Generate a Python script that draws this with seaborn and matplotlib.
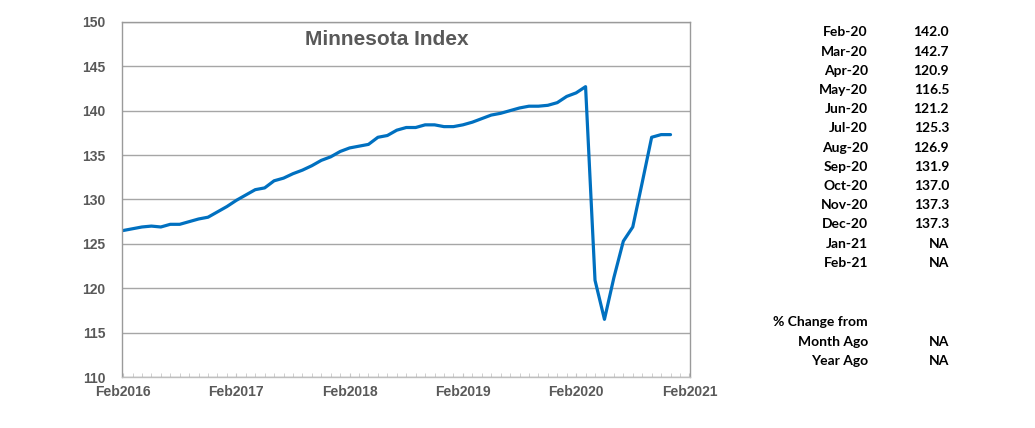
import numpy as np
import pandas as pd
import matplotlib
matplotlib.use("Agg")
import matplotlib.pyplot as plt
import seaborn as sns
from matplotlib.ticker import MultipleLocator

# Monthly index, Feb 2016 .. Dec 2020
index_values = [
    126.5, 126.7, 126.9, 127.0, 126.9, 127.2, 127.2, 127.5, 127.8, 128.0, 128.6, 129.2,
    129.9, 130.5, 131.1, 131.3, 132.1, 132.4, 132.9, 133.3, 133.8, 134.4, 134.8, 135.4,
    135.8, 136.0, 136.2, 137.0, 137.2, 137.8, 138.1, 138.1, 138.4, 138.4, 138.2, 138.2,
    138.4, 138.7, 139.1, 139.5, 139.7, 140.0, 140.3, 140.5, 140.5, 140.6, 140.9, 141.6,
    142.0, 142.7, 120.9, 116.5, 121.2, 125.3, 126.9, 131.9, 137.0, 137.3, 137.3,
]
year_labels = ["Feb2016", "Feb2017", "Feb2018", "Feb2019", "Feb2020", "Feb2021"]

table_months = ["Feb-20", "Mar-20", "Apr-20", "May-20", "Jun-20", "Jul-20", "Aug-20",
                "Sep-20", "Oct-20", "Nov-20", "Dec-20", "Jan-21", "Feb-21"]
table_values = ["142.0", "142.7", "120.9", "116.5", "121.2", "125.3", "126.9",
                "131.9", "137.0", "137.3", "137.3", "NA", "NA"]
change_labels = ["Month Ago", "Year Ago"]
change_values = ["NA", "NA"]

df = pd.DataFrame({"month": np.arange(len(index_values)), "value": index_values})

sns.set_style("white")
plt.rcParams["font.family"] = ["Liberation Sans", "DejaVu Sans"]

fig = plt.figure(figsize=(10.35, 4.28), dpi=100)
ax = fig.add_axes([0.118, 0.119, 0.549, 0.830])

sns.lineplot(data=df, x="month", y="value", ax=ax, color="#0070C0", linewidth=2.3)

ax.set_xlim(-0.1, 60.1)
ax.set_ylim(110, 150)
ax.yaxis.set_major_locator(MultipleLocator(5))
ax.set_xticks(np.arange(0, 61, 12))
ax.set_xticklabels(year_labels)
ax.xaxis.set_minor_locator(MultipleLocator(1))
ax.grid(axis="y", color="#a6a6a6", linewidth=1)
ax.set_xlabel("")
ax.set_ylabel("")

for side in ["left", "right", "top", "bottom"]:
    ax.spines[side].set_visible(True)
    ax.spines[side].set_color("#9a9a9a")
    ax.spines[side].set_linewidth(1)
ax.spines["bottom"].set_color("#bfbfbf")

ax.tick_params(axis="x", which="both", direction="in", bottom=True, length=3,
               color="#c8c8c8", pad=6)
ax.tick_params(axis="y", length=0, pad=12)
for lab in ax.get_xticklabels() + ax.get_yticklabels():
    lab.set_fontweight("bold")
    lab.set_fontsize(10)
    lab.set_color("#595959")

ax.text(0.465, 0.95, "Minnesota Index", transform=ax.transAxes, ha="center", va="center",
        fontsize=15, fontweight="bold", color="#595959")

# side table
tfont = dict(fontsize=10, fontweight="bold", color="black", family=["Lato", "DejaVu Sans"])
lab_x, val_x = 868 / 1035, 949 / 1035
for i, (m, v) in enumerate(zip(table_months, table_values)):
    y = 1 - (32.5 + 19.2 * i) / 428
    fig.text(lab_x, y, m, ha="right", va="center", **tfont)
    fig.text(val_x, y, v, ha="right", va="center", **tfont)

fig.text(lab_x, 1 - 322 / 428, "% Change from", ha="right", va="center", **tfont)
for i, (m, v) in enumerate(zip(change_labels, change_values)):
    y = 1 - (341.5 + 19.2 * i) / 428
    fig.text(lab_x, y, m, ha="right", va="center", **tfont)
    fig.text(val_x, y, v, ha="right", va="center", **tfont)

fig.savefig("out.png", dpi=100)
